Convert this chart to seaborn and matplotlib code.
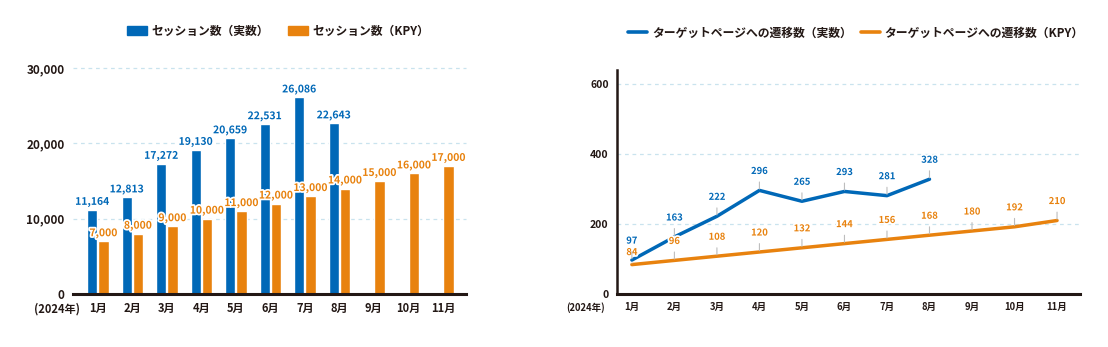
import matplotlib
matplotlib.use("Agg")
import matplotlib.pyplot as plt
import matplotlib.patheffects as pe
from matplotlib.patches import Patch
from matplotlib.lines import Line2D
import numpy as np
import pandas as pd
import seaborn as sns

# ---------------- data ----------------
months = ["1月", "2月", "3月", "4月", "5月", "6月", "7月", "8月", "9月", "10月", "11月"]
year_label = "(2024年)"
sessions_actual = [11164, 12813, 17272, 19130, 20659, 22531, 26086, 22643, np.nan, np.nan, np.nan]
sessions_kpy = [7000, 8000, 9000, 10000, 11000, 12000, 13000, 14000, 15000, 16000, 17000]
transitions_actual = [97, 163, 222, 296, 265, 293, 281, 328]
transitions_kpy = [84, 96, 108, 120, 132, 144, 156, 168, 180, 192, 210]
bar_series = ["セッション数（実数）", "セッション数（KPY）"]
line_series = ["ターゲットページへの遷移数（実数）", "ターゲットページへの遷移数（KPY）"]
bar_yticks = [0, 10000, 20000, 30000]
line_yticks = [0, 200, 400, 600]

BLUE = "#0068b7"
ORANGE = "#e8820e"
DARK = "#231815"
GRID = "#c9e3ee"

sns.set_theme(style="white")
plt.rcParams["font.family"] = ["Noto Sans CJK JP", "DejaVu Sans"]
plt.rcParams["font.weight"] = "bold"

fig = plt.figure(figsize=(11.08, 3.47), dpi=100)
W, H = 1108, 347

def px_axes(x0, x1, ytop, ybot):
    return fig.add_axes([x0 / W, 1 - ybot / H, (x1 - x0) / W, (ybot - ytop) / H])

stroke = [pe.withStroke(linewidth=2.5, foreground="white")]

# ---------------- left: bar chart ----------------
ax1 = px_axes(73, 466, 68, 294)
df_bar = pd.DataFrame({
    "month": months * 2,
    "series": [bar_series[0]] * len(months) + [bar_series[1]] * len(months),
    "value": list(sessions_actual) + list(sessions_kpy),
})
sns.barplot(data=df_bar, x="month", y="value", hue="series", order=months,
            hue_order=bar_series, palette=[BLUE, ORANGE], saturation=1,
            width=0.66, gap=0.1, errorbar=None, legend=False, ax=ax1, zorder=2)
for cont, col in zip(ax1.containers, [BLUE, ORANGE]):
    ax1.bar_label(cont, fmt="{:,.0f}", padding=2, color=col, fontsize=7.5,
                  fontweight="bold", path_effects=stroke, zorder=5)
ax1.set_ylim(0, 30000)
ax1.set_xlim(-0.72, 10.67)
ax1.set_yticks(bar_yticks, [f"{v:,}" for v in bar_yticks])
ax1.set_xlabel("")
ax1.set_ylabel("")
for v in bar_yticks[1:]:
    ax1.axhline(v, color=GRID, lw=0.9, ls=(0, (3, 3)), zorder=0, clip_on=False)
for s in ["top", "right", "left"]:
    ax1.spines[s].set_visible(False)
ax1.spines["bottom"].set_color(DARK)
ax1.spines["bottom"].set_linewidth(2.2)
ax1.tick_params(axis="both", length=0, colors=DARK)
ax1.tick_params(axis="x", pad=6, labelsize=8)
ax1.tick_params(axis="y", pad=6, labelsize=8.5)
ax1.annotate(year_label, xy=(-1.17, 0), xycoords=("data", "axes fraction"),
             xytext=(0, -6), textcoords="offset points", ha="center", va="top",
             fontsize=8, color=DARK, fontweight="bold", annotation_clip=False)
fig.legend([Patch(color=BLUE), Patch(color=ORANGE)], bar_series,
           loc="center", bbox_to_anchor=(278 / W, 1 - 31 / H), ncol=2,
           frameon=False, fontsize=8.5, handlelength=1.7, handleheight=0.9,
           handletextpad=0.35, columnspacing=1.6, labelcolor=DARK)

# ---------------- right: line chart ----------------
ax2 = px_axes(617, 1080, 70, 294)
df_line = pd.DataFrame({
    "pos": list(range(len(transitions_actual))) + list(range(len(transitions_kpy))),
    "series": [line_series[0]] * len(transitions_actual) + [line_series[1]] * len(transitions_kpy),
    "value": transitions_actual + transitions_kpy,
})
sns.lineplot(data=df_line, x="pos", y="value", hue="series", hue_order=line_series,
             palette=[BLUE, ORANGE], linewidth=2.5, sort=False, estimator=None,
             legend=False, ax=ax2, zorder=3)
ax2.set_ylim(0, 640)
ax2.set_xlim(-0.35, 10.54)
ax2.set_yticks(line_yticks, [str(v) for v in line_yticks])
ax2.set_xticks(range(len(months)), months)
ax2.set_xlabel("")
ax2.set_ylabel("")
for v in line_yticks[1:]:
    ax2.axhline(v, color=GRID, lw=0.9, ls=(0, (3, 3)), zorder=0, clip_on=False)
for s in ["top", "right"]:
    ax2.spines[s].set_visible(False)
for s in ["left", "bottom"]:
    ax2.spines[s].set_color(DARK)
ax2.spines["bottom"].set_linewidth(2.2)
ax2.spines["left"].set_linewidth(1.8)
ax2.tick_params(axis="both", length=0, colors=DARK)
ax2.tick_params(axis="x", pad=6, labelsize=6.8)
ax2.tick_params(axis="y", pad=6, labelsize=7.5)
ax2.annotate(year_label, xy=(-1.1, 0), xycoords=("data", "axes fraction"),
             xytext=(0, -6), textcoords="offset points", ha="center", va="top",
             fontsize=6.8, color=DARK, fontweight="bold", annotation_clip=False)

def label_points(values, color, first_off):
    for i, v in enumerate(values):
        off = first_off if i == 0 else 14
        ax2.annotate(str(v), xy=(i, v), xytext=(0, off), textcoords="offset points",
                     ha="center", va="center", color=color, fontsize=6.8,
                     fontweight="bold", path_effects=stroke, zorder=6,
                     arrowprops=dict(arrowstyle="-", color="#bdbdbd", lw=0.8,
                                     shrinkA=2, shrinkB=1))

label_points(transitions_kpy, ORANGE, 9)
label_points(transitions_actual, BLUE, 14)

fig.legend([Line2D([], [], color=BLUE, lw=2.6), Line2D([], [], color=ORANGE, lw=2.6)],
           line_series, loc="center", bbox_to_anchor=(856 / W, 1 - 33 / H), ncol=2,
           frameon=False, fontsize=8.5, handlelength=1.6, handletextpad=0.4,
           columnspacing=0.8, labelcolor=DARK)

fig.savefig("out.png", dpi=100, facecolor="white")
